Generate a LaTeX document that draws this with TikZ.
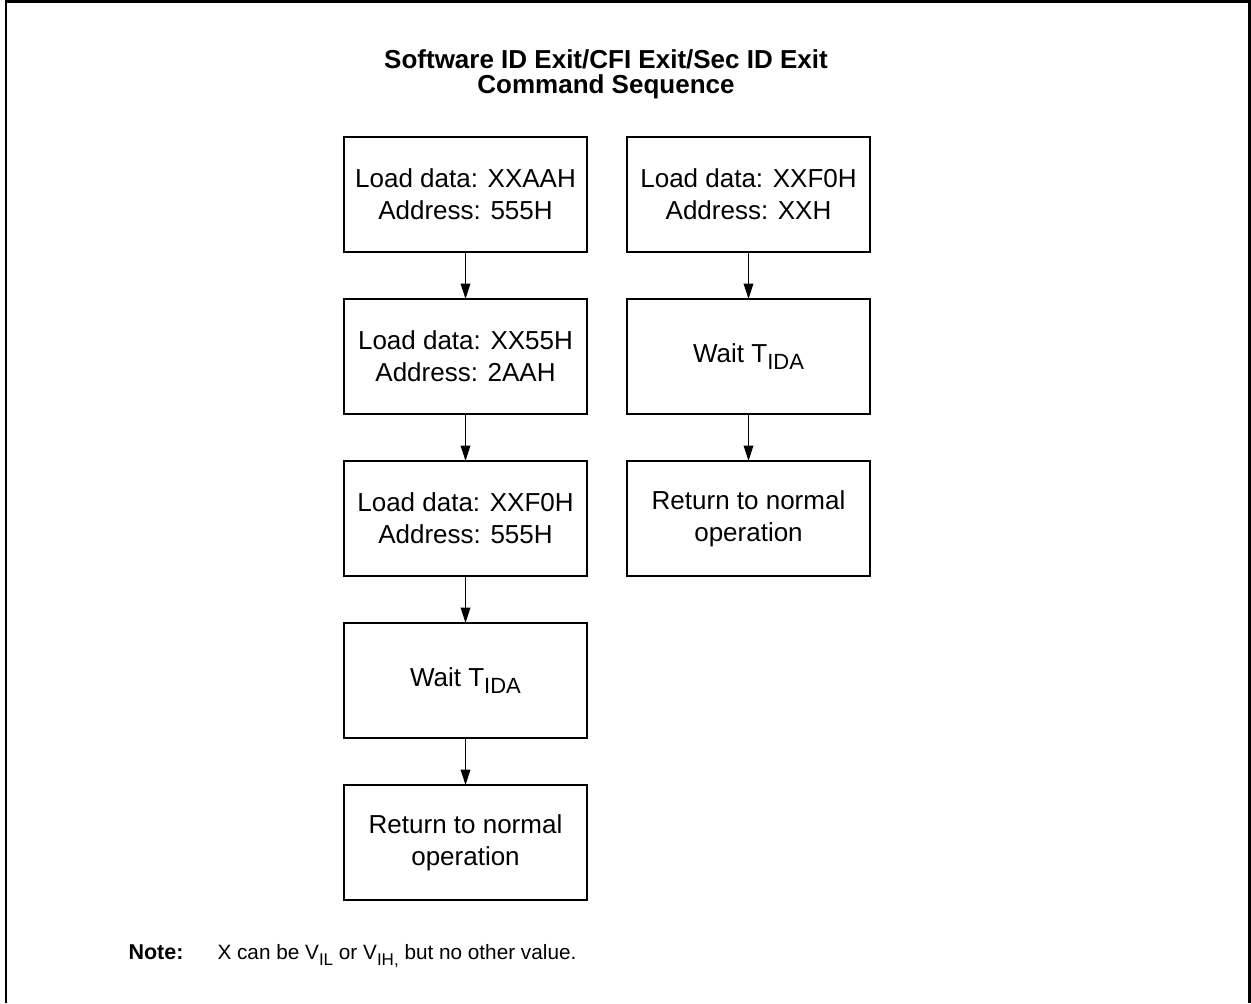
\documentclass[tikz,border=0pt]{standalone}
\usepackage{fontspec}
\setmainfont{Liberation Sans}
\usetikzlibrary{positioning,arrows.meta}

\newcommand{\lowtext}[2]{\raisebox{-0.55ex}{\fontsize{#1}{#1}\selectfont #2}}

\begin{document}
\begin{tikzpicture}[x=0.4pt,y=-0.4pt,
    node distance=18.8pt and 16pt,
    cmdbox/.style={draw,line width=0.95pt,minimum width=97.2pt,minimum height=46pt,
      align=center,inner sep=0pt,outer sep=0pt,font=\fontsize{10.4}{12.7}\selectfont},
    flow/.style={-{Triangle[length=6.2pt,width=3.8pt]},line width=0.75pt}]
      \useasboundingbox (0,0) rectangle (1251,1003);
      \draw[line width=0.95pt] (6,1003) -- (6,1.5) -- (1249.5,1.5) -- (1249.5,1003);
      \node[align=center,font=\bfseries\fontsize{10.4}{10}\selectfont] (title) at (606,74.5)
        {Software ID Exit/CFI Exit/Sec ID Exit\\Command Sequence};
      % left sequence
      \node[cmdbox] (load1) at (465.5,194.5) {Load data: XXAAH\\Address: 555H};
      \node[cmdbox,below=of load1] (load2) {Load data: XX55H\\Address: 2AAH};
      \node[cmdbox,below=of load2] (load3) {Load data: XXF0H\\Address: 555H};
      \node[cmdbox,below=of load3] (wait) {Wait T\lowtext{8.8}{IDA}};
      \node[cmdbox,below=of wait] (ret) {Return to normal\\operation};
      % right sequence
      \node[cmdbox,right=of load1] (rload) {Load data: XXF0H\\Address: XXH};
      \node[cmdbox,below=of rload] (rwait) {Wait T\lowtext{8.8}{IDA}};
      \node[cmdbox,below=of rwait] (rret) {Return to normal\\operation};
      \draw[flow] (load1) -- (load2);
      \draw[flow] (load2) -- (load3);
      \draw[flow] (load3) -- (wait);
      \draw[flow] (wait) -- (ret);
      \draw[flow] (rload) -- (rwait);
      \draw[flow] (rwait) -- (rret);
      % note
      \node[anchor=base west,inner sep=0pt,font=\bfseries\fontsize{8.6}{10}\selectfont] (note) at (128,959) {Note:};
      \node[anchor=base west,inner sep=0pt,font=\fontsize{8.3}{10}\selectfont] (notetext) at (217,959)
        {X can be V\lowtext{6.8}{IL} or V\lowtext{6.8}{IH,} but no other value.};
    \end{tikzpicture}
\end{document}
